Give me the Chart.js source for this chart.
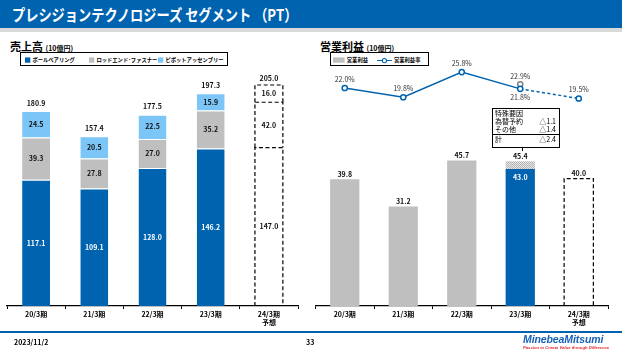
<!DOCTYPE html>
<html lang="ja">
<head>
<meta charset="utf-8">
<script src="https://cdn.jsdelivr.net/npm/chart.js@4.4.0/dist/chart.umd.min.js"></script>
<style>
  body { margin:0; width:622px; height:350px; position:relative; overflow:hidden; background:#fff;
         font-family:"Noto Sans CJK JP", "Noto Sans", sans-serif; color:#000; }
  .titlebar { position:absolute; left:0; top:0; width:622px; height:28px; background:#0063B0; border-bottom:4px solid #D9D9D9; }
  .titlebar span { position:absolute; left:12px; top:2px; color:#fff; font-size:16px; font-weight:bold; white-space:nowrap;
                   transform:scaleX(0.825); transform-origin:0 50%; }
  .heading { position:absolute; top:38px; font-size:11px; font-weight:bold; white-space:nowrap; }
  .heading small { font-size:7px; }
  .legend { position:absolute; border:1px solid #000; height:12px; }
  .legend span { position:absolute; top:1px; font-size:10px; font-weight:bold; white-space:nowrap; line-height:12px;
                 transform:scale(0.53); transform-origin:0 50%; }
  .legend i { display:inline-block; vertical-align:middle; margin-right:4px; position:relative; top:-1px; }
  canvas { position:absolute; }
  .note { position:absolute; left:492px; top:108px; width:66px; height:38px; border:1px solid #000; font-size:7px; line-height:8px; }
  .note div { position:relative; height:8px; padding-left:2px; }
  .note b { position:absolute; right:3px; font-weight:normal; }
  .leader { position:absolute; left:522px; top:147px; width:1px; height:4px; background:#000; }
  .footer { position:absolute; left:0; top:331px; width:622px; height:1.5px; background:#0063B0; }
  .foot { position:absolute; top:337px; font-size:7px; font-weight:bold; }
  .logo { position:absolute; left:523px; top:333px; font-size:10.5px; font-weight:bold; font-style:italic; color:#1560B8;
          font-family:"Liberation Sans", Arial, sans-serif; letter-spacing:-0.1px; }
  .tag { position:absolute; left:523px; top:345px; font-size:4.2px; font-weight:bold; font-style:italic; color:#E0282E; white-space:nowrap;
         font-family:"Liberation Sans", Arial, sans-serif; }
</style>
</head>
<body>
<div class="titlebar"><span>プレシジョンテクノロジーズ セグメント （PT）</span></div>

<div class="heading" style="left:10px">売上高 <small>(10億円)</small></div>
<div class="legend" style="left:20px; top:52px; width:206px">
  <span style="left:4px"><i style="width:10px;height:10px;background:#0063B0"></i>ボールベアリング</span>
  <span style="left:68px"><i style="width:10px;height:10px;background:#BFBFBF"></i>ロッドエンド･ファスナー</span>
  <span style="left:137px"><i style="width:10px;height:10px;background:#7CC5F7"></i>ピボットアッセンブリー</span>
</div>

<div class="heading" style="left:320px">営業利益 <small>(10億円)</small></div>
<div class="legend" style="left:330px; top:52px; width:97px">
  <span style="left:2px"><i style="width:22px;height:10px;background:#BFBFBF"></i>営業利益</span>
  <span style="left:46px"><i style="width:28px;height:10px;background:linear-gradient(#fff 4px,#0063B0 4px,#0063B0 7px,#fff 7px)"><i style="position:absolute;left:9px;top:1px;width:6px;height:6px;border:2px solid #0063B0;border-radius:50%;background:#fff;margin:0"></i></i>営業利益率</span>
</div>

<canvas id="sales" width="310" height="292" style="left:0; top:40px"></canvas>
<canvas id="profit" width="312" height="292" style="left:310px; top:40px"></canvas>

<div class="note">
  <div>特殊要因</div>
  <div>為替予約<b>△1.1</b></div>
  <div>その他<b>△1.4</b></div>
  <div style="border-top:1px solid #000; height:9px; margin-top:1px">計<b>△2.4</b></div>
</div>
<div class="leader"></div>

<div class="footer"></div>
<div class="foot" style="left:14px">2023/11/2</div>
<div class="foot" style="left:306px">33</div>
<div class="logo">MinebeaMitsumi</div>
<div class="tag">Passion to Create Value through Difference</div>

<script>
const categories = [['20/3期'], ['21/3期'], ['22/3期'], ['23/3期'], ['24/3期', '予想']];

// 売上高
const ballBearing = [117.1, 109.1, 128.0, 146.2, 147.0];
const rodEnd = [39.3, 27.8, 27.0, 35.2, 42.0];
const pivot = [24.5, 20.5, 22.5, 15.9, 16.0];
const salesTotal = [180.9, 157.4, 177.5, 197.3, 205.0];

// 営業利益
const opIncome = [39.8, 31.2, 45.7, 43.0, 40.0];
const specialFactor = [null, null, null, 2.4, null];
const opIncomeBefore = [null, null, null, 45.4, null];
const opMargin = [22.0, 19.8, 25.8, 21.8, 19.5];
const opMarginBefore = [null, null, null, 22.9, null];

const BLUE = '#0063B0';
const GRAY = '#BFBFBF';
const LIGHT = '#7CC5F7';
const FONT = '"Noto Sans CJK JP", "Noto Sans", sans-serif';
const FORECAST = 4;

function hatch() {
  const c = document.createElement('canvas');
  c.width = 2; c.height = 2;
  const g = c.getContext('2d');
  g.fillStyle = '#E6E6E6'; g.fillRect(0, 0, 2, 2);
  g.fillStyle = '#B5B5B5'; g.fillRect(0, 0, 1, 1); g.fillRect(1, 1, 1, 1);
  return g.createPattern(c, 'repeat');
}

function dashedBox(ctx, el) {
  const l = el.x - el.width / 2, r = el.x + el.width / 2;
  ctx.save();
  ctx.strokeStyle = '#000';
  ctx.lineWidth = 1.2;
  ctx.setLineDash([4, 2.5]);
  ctx.beginPath();
  ctx.moveTo(l, el.base); ctx.lineTo(l, el.y); ctx.lineTo(r, el.y); ctx.lineTo(r, el.base);
  ctx.stroke();
  ctx.restore();
}

function text(ctx, s, x, y, color, bold) {
  ctx.fillStyle = color;
  ctx.font = (bold ? 'bold ' : '') + '7px ' + FONT;
  ctx.textAlign = 'center';
  ctx.textBaseline = 'middle';
  ctx.fillText(s, x, y);
}

function xAxis() {
  return {
    stacked: true,
    grid: { offset: true, drawOnChartArea: false, color: '#000', tickLength: 3, lineWidth: 1 },
    border: { color: '#000', width: 1.3 },
    ticks: { color: '#000', font: { size: 7, weight: 'bold', family: FONT }, padding: 1, maxRotation: 0 },
    afterFit: s => { s.height = 26; }
  };
}

const salesLabels = {
  id: 'salesLabels',
  afterDatasetsDraw(chart) {
    const ctx = chart.ctx;
    [ballBearing, rodEnd, pivot].forEach((arr, d) => {
      chart.getDatasetMeta(d).data.forEach((el, i) => {
        if (i === FORECAST) dashedBox(ctx, el);
        const white = d === 0 && i !== FORECAST;
        text(ctx, arr[i].toFixed(1), el.x, (el.y + el.base) / 2, white ? '#fff' : '#111', true);
      });
    });
    chart.getDatasetMeta(2).data.forEach((el, i) => {
      text(ctx, salesTotal[i].toFixed(1), el.x, el.y - (i === FORECAST ? 7 : 8), '#111', true);
    });
  }
};

new Chart(document.getElementById('sales'), {
  type: 'bar',
  data: {
    labels: categories,
    datasets: [
      { label: 'ボールベアリング', data: ballBearing, backgroundColor: ballBearing.map((v, i) => i === FORECAST ? 'rgba(0,0,0,0)' : BLUE) },
      { label: 'ロッドエンド･ファスナー', data: rodEnd, backgroundColor: rodEnd.map((v, i) => i === FORECAST ? 'rgba(0,0,0,0)' : GRAY) },
      { label: 'ピボットアッセンブリー', data: pivot, backgroundColor: pivot.map((v, i) => i === FORECAST ? 'rgba(0,0,0,0)' : LIGHT) }
    ].map(ds => Object.assign(ds, { borderColor: '#fff', borderWidth: { top: 1 }, borderSkipped: false, categoryPercentage: 1, barPercentage: 0.48 }))
  },
  options: {
    responsive: false,
    animation: false,
    layout: { padding: { left: 7, right: 12, top: 20, bottom: 0 } },
    plugins: { legend: { display: false }, tooltip: { enabled: false } },
    scales: {
      x: xAxis(),
      y: { stacked: true, display: false, min: 0, max: 228.2 }
    }
  },
  plugins: [salesLabels]
});

const profitLabels = {
  id: 'profitLabels',
  afterDatasetsDraw(chart) {
    const ctx = chart.ctx;
    chart.getDatasetMeta(0).data.forEach((el, i) => {
      if (i === FORECAST) dashedBox(ctx, el);
      if (i === 3) text(ctx, opIncome[i].toFixed(1), el.x, el.y + 8, '#fff', true);
      else text(ctx, opIncome[i].toFixed(1), el.x, el.y - 5, '#111', true);
    });
    chart.getDatasetMeta(1).data.forEach((el, i) => {
      if (opIncomeBefore[i] !== null) text(ctx, opIncomeBefore[i].toFixed(1), el.x, el.y - 5, '#111', true);
    });
    chart.getDatasetMeta(2).data.forEach((el, i) => {
      text(ctx, opMargin[i].toFixed(1) + '%', el.x, i === 3 ? el.y + 8 : el.y - 9, '#333', false);
    });
    chart.getDatasetMeta(3).data.forEach((el, i) => {
      if (opMarginBefore[i] !== null) text(ctx, opMarginBefore[i].toFixed(1) + '%', el.x, el.y - 8, '#333', false);
    });
  }
};

new Chart(document.getElementById('profit'), {
  data: {
    labels: categories,
    datasets: [
      { type: 'bar', label: '営業利益', data: opIncome, order: 2,
        backgroundColor: opIncome.map((v, i) => i === 3 ? BLUE : i === FORECAST ? 'rgba(0,0,0,0)' : GRAY),
        categoryPercentage: 1, barPercentage: 0.5, stack: 'p' },
      { type: 'bar', label: '特殊要因', data: specialFactor, order: 2, backgroundColor: hatch(),
        categoryPercentage: 1, barPercentage: 0.5, stack: 'p' },
      { type: 'line', label: '営業利益率', data: opMargin, yAxisID: 'y2', order: 0,
        borderColor: BLUE, borderWidth: 1.5, pointRadius: 2.6, pointBorderWidth: 1.5,
        pointBackgroundColor: '#fff', pointBorderColor: BLUE,
        segment: { borderDash: c => c.p0DataIndex === 3 ? [3, 2.5] : undefined } },
      { type: 'line', label: '特殊要因除く', data: opMarginBefore, yAxisID: 'y2', order: 1, showLine: false,
        pointRadius: 2.6, pointBorderWidth: 1.5, pointBackgroundColor: '#fff', pointBorderColor: '#808080' }
    ]
  },
  options: {
    responsive: false,
    animation: false,
    layout: { padding: { left: 5, right: 14, top: 20, bottom: 0 } },
    plugins: { legend: { display: false }, tooltip: { enabled: false } },
    scales: {
      x: xAxis(),
      y: { stacked: true, display: false, min: 0, max: 77.2 },
      y2: { display: false, min: -29.9, max: 28.67 }
    }
  },
  plugins: [profitLabels]
});
</script>
</body>
</html>
